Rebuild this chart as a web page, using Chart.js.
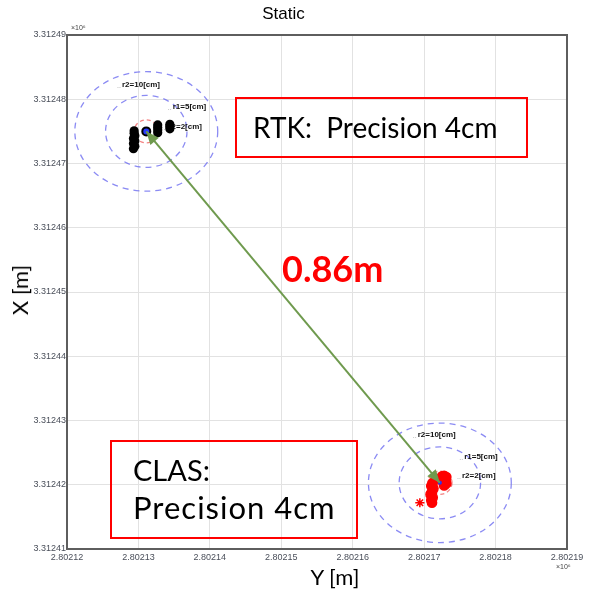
<!DOCTYPE html>
<html>
<head>
<meta charset="utf-8">
<script src="https://cdn.jsdelivr.net/npm/chart.js@4/dist/chart.umd.min.js"></script>
<style>
  html, body { margin: 0; padding: 0; background: #fff; }
  #wrap { position: relative; width: 592px; height: 593px; overflow: hidden; }
  #c { position: absolute; left: 0; top: 0; }
  .box { position: absolute; border: 2px solid #ff0000; box-sizing: border-box; }
  .t { position: absolute; font-family: Lato, "Open Sans", sans-serif; color: #000; white-space: pre; line-height: 1; }
  .exp { position: absolute; font-family: "Liberation Sans", Arial, sans-serif; font-size: 7px; color: #444; line-height: 1; }
</style>
</head>
<body>
<div id="wrap">
  <canvas id="c" width="592" height="593"></canvas>
  <div class="exp" style="left:71px; top:24px;">×10⁶</div>
  <div class="exp" style="left:556px; top:563px;">×10⁶</div>
  <div class="t" style="left:20px; top:290px; font-size:22px; transform:translate(-50%,-50%) rotate(-90deg);">X [m]</div>
  <div class="t" style="left:335px; top:577px; font-size:22px; transform:translate(-50%,-50%);">Y [m]</div>
  <div class="box" style="left:235px; top:97px; width:293px; height:61px;"></div>
  <div class="t" style="left:253px; top:113px; font-size:28px;">RTK:  Precision 4cm</div>
  <div class="box" style="left:110px; top:440px; width:248px; height:99px;"></div>
  <div class="t" style="left:133px; top:455px; font-size:29px;">CLAS:</div>
  <div class="t" style="left:133px; top:492px; font-size:31px; letter-spacing:1px;">Precision 4cm</div>
  <div class="t" style="left:282px; top:250px; font-size:36px; font-weight:bold; color:#ff0000;">0.86m</div>
</div>
<script>
// Axis tick labels (grid units 0..n map onto these)
const xTickLabels = ['2.80212', '2.80213', '2.80214', '2.80215', '2.80216', '2.80217', '2.80218', '2.80219'];
const yTickLabels = ['3.31241', '3.31242', '3.31243', '3.31244', '3.31245', '3.31246', '3.31247', '3.31248', '3.31249'];

// Reference positions (RTK fix, CLAS fix) in grid units
const siteNames = ['RTK', 'CLAS'];
const siteX = [1.11, 5.22];
const siteY = [6.50, 1.03];

// Precision rings around each site: outer r2=10cm, r1=5cm, inner r2=2cm
const ringRadiusX = [1.00, 0.57, 0.17];
const ringRadiusY = [0.93, 0.56, 0.18];
const ringLabels = ['r2=10[cm]', 'r1=5[cm]', 'r2=2[cm]'];
const ringLabelX = [[0.77, 1.48, 1.42], [4.91, 5.56, 5.53]];
const ringLabelY = [[7.22, 6.88, 6.57], [1.77, 1.43, 1.14]];

// RTK solutions
const rtkX = [0.93, 0.95, 0.93, 0.95, 0.93, 0.95, 0.94, 0.94, 1.27, 1.27, 1.27, 1.27, 1.44, 1.44, 1.44];
const rtkY = [6.23, 6.27, 6.31, 6.35, 6.39, 6.43, 6.47, 6.51, 6.48, 6.52, 6.56, 6.60, 6.54, 6.58, 6.61];

// CLAS solutions
const clasX = [5.25, 5.28, 5.31, 5.26, 5.30, 5.27, 5.31, 5.28, 5.12, 5.10, 5.13, 5.11, 5.09, 5.12, 5.10, 5.11, 4.94];
const clasY = [1.13, 1.14, 1.12, 1.08, 1.07, 1.03, 1.02, 0.99, 1.03, 0.98, 0.94, 0.89, 0.85, 0.80, 0.76, 0.72, 0.72];
const clasStyle = ['circle', 'circle', 'circle', 'circle', 'circle', 'circle', 'circle', 'circle',
                   'circle', 'circle', 'circle', 'circle', 'circle', 'circle', 'circle', 'circle', 'star'];

const toPts = (xs, ys) => xs.map((x, i) => ({ x, y: ys[i] }));

// Dashed precision rings + their labels, drawn under the data
const ringPlugin = {
  id: 'rings',
  beforeDatasetsDraw(chart) {
    const { ctx, scales: { x, y }, chartArea } = chart;
    ctx.save();
    ctx.beginPath();
    ctx.rect(chartArea.left, chartArea.top, chartArea.width, chartArea.height);
    ctx.clip();
    siteX.forEach((cx, s) => {
      const cy = siteY[s];
      const px = x.getPixelForValue(cx);
      const py = y.getPixelForValue(cy);
      ringRadiusX.forEach((rx, k) => {
        const rpx = Math.abs(x.getPixelForValue(cx + rx) - px);
        const rpy = Math.abs(y.getPixelForValue(cy + ringRadiusY[k]) - py);
        ctx.beginPath();
        ctx.ellipse(px, py, rpx, rpy, 0, 0, Math.PI * 2);
        ctx.setLineDash(k === 2 ? [4, 3] : [6, 5]);
        ctx.strokeStyle = k === 2 ? 'rgba(240,90,90,0.75)' : 'rgba(110,110,240,0.8)';
        ctx.lineWidth = 1.3;
        ctx.stroke();
      });
      ctx.setLineDash([]);
      ringLabels.forEach((txt, k) => {
        const lx = x.getPixelForValue(ringLabelX[s][k]);
        const ly = y.getPixelForValue(ringLabelY[s][k]);
        ctx.fillStyle = '#999';
        ctx.font = '7px "Liberation Sans", Arial, sans-serif';
        ctx.textBaseline = 'middle';
        ctx.textAlign = 'right';
        ctx.fillText('..', lx - 1, ly + 1);
        ctx.fillStyle = '#111';
        ctx.font = 'bold 8px "Liberation Sans", Arial, sans-serif';
        ctx.textAlign = 'left';
        ctx.fillText(txt, lx, ly);
      });
    });
    ctx.restore();
  }
};

// Arrow heads on both ends of the baseline between the two fixes
const arrowPlugin = {
  id: 'arrows',
  afterDatasetsDraw(chart) {
    const meta = chart.getDatasetMeta(0);
    const pts = meta.data;
    if (pts.length < 2) return;
    const { ctx } = chart;
    const a = pts[0], b = pts[1];
    const ang = Math.atan2(b.y - a.y, b.x - a.x);
    const head = (tx, ty, dir) => {
      const L = 13, W = 5.5;
      const bx = tx - L * Math.cos(dir), by = ty - L * Math.sin(dir);
      ctx.beginPath();
      ctx.moveTo(tx, ty);
      ctx.lineTo(bx + W * Math.sin(dir), by - W * Math.cos(dir));
      ctx.lineTo(bx - W * Math.sin(dir), by + W * Math.cos(dir));
      ctx.closePath();
      ctx.fill();
    };
    ctx.save();
    ctx.fillStyle = '#6f9a4e';
    head(a.x, a.y, ang + Math.PI);
    head(b.x, b.y, ang);
    ctx.restore();
  }
};

// Box frame around the plot area
const framePlugin = {
  id: 'frame',
  afterDraw(chart) {
    const { ctx, chartArea: a } = chart;
    ctx.save();
    ctx.strokeStyle = '#5e5e5e';
    ctx.lineWidth = 2;
    ctx.strokeRect(a.left, a.top, a.width, a.height);
    ctx.restore();
  }
};

new Chart(document.getElementById('c'), {
  type: 'scatter',
  data: {
    datasets: [
      {
        label: 'baseline',
        data: toPts(siteX, siteY),
        showLine: true,
        borderColor: '#6f9a4e',
        borderWidth: 2,
        pointRadius: 0,
        order: 0
      },
      {
        label: siteNames[0] + ' fix',
        data: toPts([siteX[0]], [siteY[0]]),
        pointRadius: 4,
        borderWidth: 2,
        borderColor: '#000',
        backgroundColor: '#2a3cff',
        order: 1
      },
      {
        label: siteNames[1] + ' fix',
        data: toPts([siteX[1]], [siteY[1]]),
        pointRadius: 2,
        borderWidth: 0,
        backgroundColor: '#2030ff',
        order: 1
      },
      {
        label: 'RTK',
        data: toPts(rtkX, rtkY),
        pointRadius: 4.6,
        borderWidth: 0,
        backgroundColor: '#000',
        order: 2
      },
      {
        label: 'CLAS',
        data: toPts(clasX, clasY),
        pointStyle: clasStyle,
        pointRadius: 4.6,
        borderWidth: 1.5,
        borderColor: '#ff0000',
        backgroundColor: '#ff0000',
        order: 2
      }
    ]
  },
  options: {
    responsive: false,
    maintainAspectRatio: false,
    animation: false,
    layout: { padding: { top: 0, right: 25, bottom: 0, left: 0 } },
    plugins: {
      legend: { display: false },
      tooltip: { enabled: false },
      title: {
        display: true,
        text: 'Static',
        color: '#000',
        font: { family: '"Liberation Sans", Arial, sans-serif', size: 17, weight: 'normal', lineHeight: 1.2 },
        padding: { top: 4, bottom: 10.6 }
      }
    },
    scales: {
      x: {
        type: 'linear',
        min: 0,
        max: xTickLabels.length - 1,
        afterFit(s) { s.height = 44; },
        grid: { color: '#e2e2e2', lineWidth: 1, drawTicks: false },
        border: { display: false },
        ticks: {
          stepSize: 1,
          padding: 3,
          maxRotation: 0,
          autoSkip: false,
          color: '#4a4f5a',
          font: { family: '"Liberation Sans", Arial, sans-serif', size: 9 },
          callback: (v) => xTickLabels[Math.round(v)]
        }
      },
      y: {
        type: 'linear',
        min: 0,
        max: yTickLabels.length - 1,
        afterFit(s) { s.width = 67; },
        grid: { color: '#e2e2e2', lineWidth: 1, drawTicks: false },
        border: { display: false },
        ticks: {
          stepSize: 1,
          padding: 1,
          autoSkip: false,
          color: '#4a4f5a',
          font: { family: '"Liberation Sans", Arial, sans-serif', size: 9 },
          callback: (v) => yTickLabels[Math.round(v)]
        }
      }
    }
  },
  plugins: [ringPlugin, arrowPlugin, framePlugin]
});
</script>
</body>
</html>
